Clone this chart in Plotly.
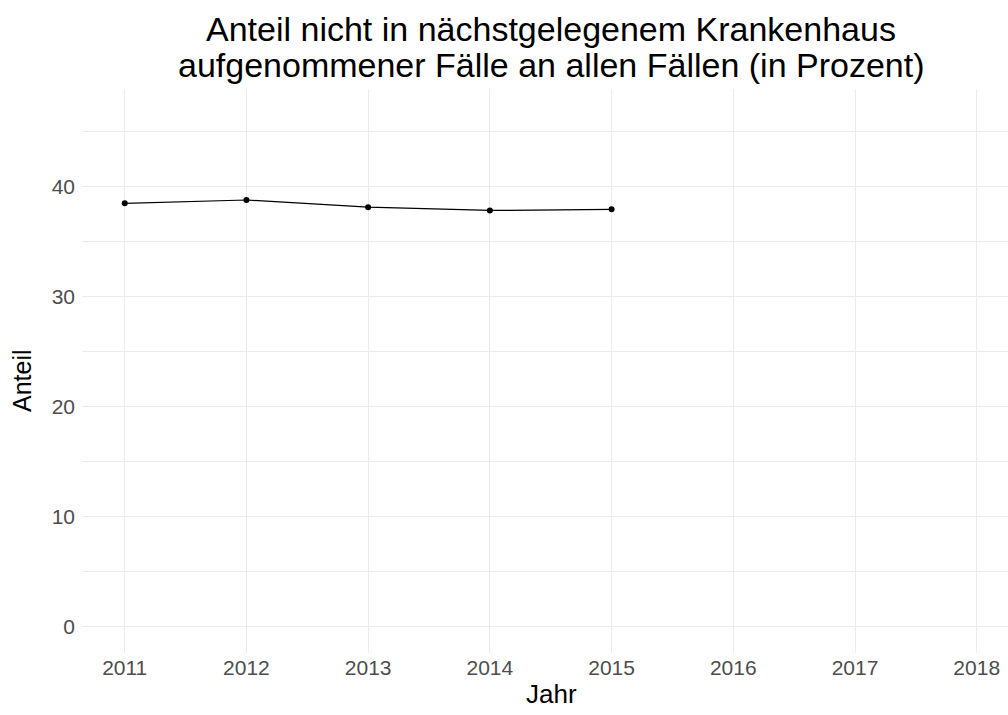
import plotly.graph_objects as go

years = [2011, 2012, 2013, 2014, 2015]
anteil = [38.5, 38.8, 38.15, 37.85, 37.95]
x_ticks = [2011, 2012, 2013, 2014, 2015, 2016, 2017, 2018]
y_ticks = [0, 10, 20, 30, 40]
y_minor = [5, 15, 25, 35, 45]
title_lines = ["Anteil nicht in nächstgelegenem Krankenhaus",
               "aufgenommener Fälle an allen Fällen (in Prozent)"]
x_label = "Jahr"
y_label = "Anteil"

FONT = "Liberation Sans, Arial, sans-serif"

fig = go.Figure()
fig.add_trace(go.Scatter(
    x=years, y=anteil, mode="lines+markers",
    line=dict(color="black", width=1.2),
    marker=dict(color="black", size=6),
    showlegend=False, hoverinfo="x+y",
))

fig.update_layout(
    width=1008, height=715,
    margin=dict(l=82, r=0, t=89, b=62, pad=0),
    paper_bgcolor="white", plot_bgcolor="white",
    font=dict(family=FONT, color="#4D4D4D"),
    xaxis=dict(
        range=[2010.649, 2018.257], tickvals=x_ticks, ticktext=[str(v) for v in x_ticks],
        showgrid=True, gridcolor="#EBEBEB", gridwidth=1.4,
        zeroline=False, showline=False, ticks="",
        tickfont=dict(size=21, color="#4D4D4D", family=FONT),
        ticklabelstandoff=0,
    ),
    yaxis=dict(
        range=[-2.41, 48.9], tickvals=y_ticks,
        showgrid=True, gridcolor="#EBEBEB", gridwidth=1.4,
        minor=dict(tickvals=y_minor, showgrid=True, gridcolor="#EBEBEB", gridwidth=0.8, ticks=""),
        zeroline=False, showline=False, ticks="",
        tickfont=dict(size=21, color="#4D4D4D", family=FONT),
        ticklabelstandoff=6,
    ),
    annotations=[
        dict(text=title_lines[0], xref="paper", yref="paper", x=0.5065, y=1.1055,
             xanchor="center", yanchor="middle", showarrow=False,
             font=dict(size=34, color="black", family=FONT)),
        dict(text=title_lines[1], xref="paper", yref="paper", x=0.5065, y=1.0417,
             xanchor="center", yanchor="middle", showarrow=False,
             font=dict(size=34, color="black", family=FONT)),
        dict(text=x_label, xref="paper", yref="paper", x=0.5065, y=-0.072,
             xanchor="center", yanchor="middle", showarrow=False,
             font=dict(size=26, color="black", family=FONT)),
        dict(text=y_label, xref="paper", yref="paper", x=-0.0648, y=0.484,
             xanchor="center", yanchor="middle", showarrow=False, textangle=-90,
             font=dict(size=25, color="black", family=FONT)),
    ],
)

fig.write_html(
    "out.html",
    config={"displayModeBar": False},
    post_script="document.body.style.margin='0';document.body.style.overflow='hidden';",
)
